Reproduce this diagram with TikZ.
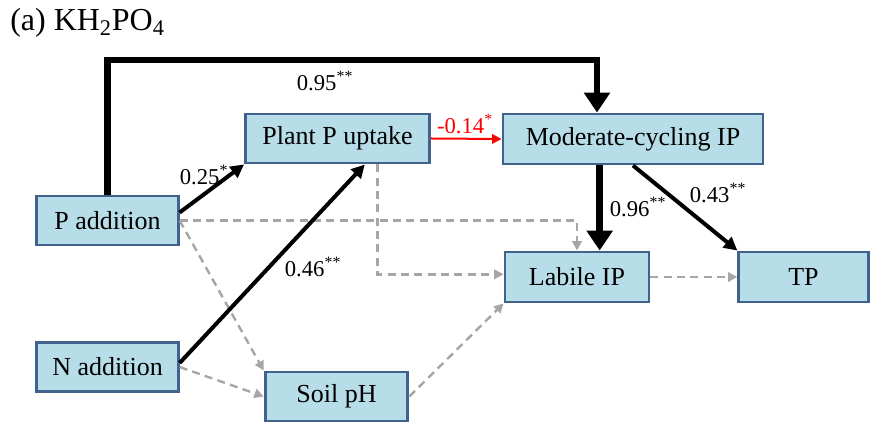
\documentclass[tikz,border=0pt]{standalone}
\usepackage{fontspec}
\setmainfont{Liberation Serif}
\usepackage{tikz}
\usetikzlibrary{arrows.meta,positioning}
\definecolor{boxfill}{HTML}{B7DDE8}
\definecolor{boxline}{HTML}{41628C}
\definecolor{dashgrey}{HTML}{A6A6A6}
\tikzset{
  box/.style={draw=boxline,fill=boxfill,line width=2.2pt,inner sep=0pt,
    font=\fontsize{19.5}{22}\selectfont},
  lbl/.style={inner sep=0pt,font=\fontsize{17}{19}\selectfont},
  bigarrow/.style={line width=5pt,line join=miter,-{Triangle[length=15pt,width=19pt]}},
  midarrow/.style={line width=3pt,-{Triangle[length=10pt,width=10pt]}},
  redarrow/.style={red,line width=1.5pt,-{Triangle[length=7pt,width=7pt]}},
  dasharrow/.style={dashgrey,line width=1.8pt,dash pattern=on 6pt off 4pt,
    -{Triangle[length=7pt,width=7pt]}}
}
\begin{document}
\begin{tikzpicture}[x=0.75pt,y=-0.75pt]
\useasboundingbox (0,0) rectangle (872,423);
% title
\node[anchor=base west,inner sep=0pt,font=\fontsize{24}{28}\selectfont] (title) at (10,31) {(a) KH\textsubscript{2}PO\textsubscript{4}};
% boxes
\node[box,minimum width=106pt,minimum height=36.75pt] (padd) at (107.5,220.5) {P addition};
\node[box,minimum width=106pt,minimum height=36.75pt] (nadd) at (107.5,367) {N addition};
\node[box,minimum width=107pt,minimum height=36.75pt] (ph) at (336.5,396.5) {Soil pH};
\node[box,minimum width=138pt,minimum height=36.75pt] (uptake) at (337.5,138.5) {Plant P uptake};
\node[box,minimum width=195pt,minimum height=37.5pt] (mcip) at (633,139) {Moderate-cycling IP};
\node[box,minimum width=108pt,minimum height=37.5pt] (lip) at (577,277) {Labile IP};
\node[box,minimum width=97pt,minimum height=37.5pt] (tp) at (803.5,277) {TP};
% dashed paths
\draw[dasharrow] (padd.east) -| (lip.north);
\draw[dasharrow] ([xshift=30pt]uptake.south) |- ([yshift=2pt]lip.west);
\draw[dasharrow] (padd.east) -- (ph.north west);
\draw[dasharrow] (nadd.east) -- (ph.west);
\draw[dasharrow] (ph.east) -- (lip.south west);
\draw[dasharrow] (lip.east) -- (tp.west);
% significant paths
\coordinate (mtop) at (597,60);
\draw[bigarrow] (padd.north) |- (mtop) -- (mtop |- mcip.north);
\draw[midarrow] ([yshift=6pt]padd.east) -- (uptake.south west);
\draw[midarrow] ([yshift=3pt]nadd.east) -- ([xshift=20.5pt]uptake.south);
\draw[redarrow] (uptake.east) -- (mcip.west);
\draw[bigarrow] ([xshift=-25pt]mcip.south) -- ([xshift=-25pt]mcip.south |- lip.north);
\draw[midarrow] (mcip.south) -- (tp.north west);
% labels
\node[lbl] (l95) at (325,81) {0.95\textsuperscript{**}};
\node[lbl] (l25) at (204,175) {0.25\textsuperscript{*}};
\node[lbl] (l46) at (313,267) {0.46\textsuperscript{**}};
\node[lbl,text=red] (l14) at (465,124) {-0.14\textsuperscript{*}};
\node[lbl] (l96) at (638,207) {0.96\textsuperscript{**}};
\node[lbl] (l43) at (718,193) {0.43\textsuperscript{**}};
\end{tikzpicture}
\end{document}
